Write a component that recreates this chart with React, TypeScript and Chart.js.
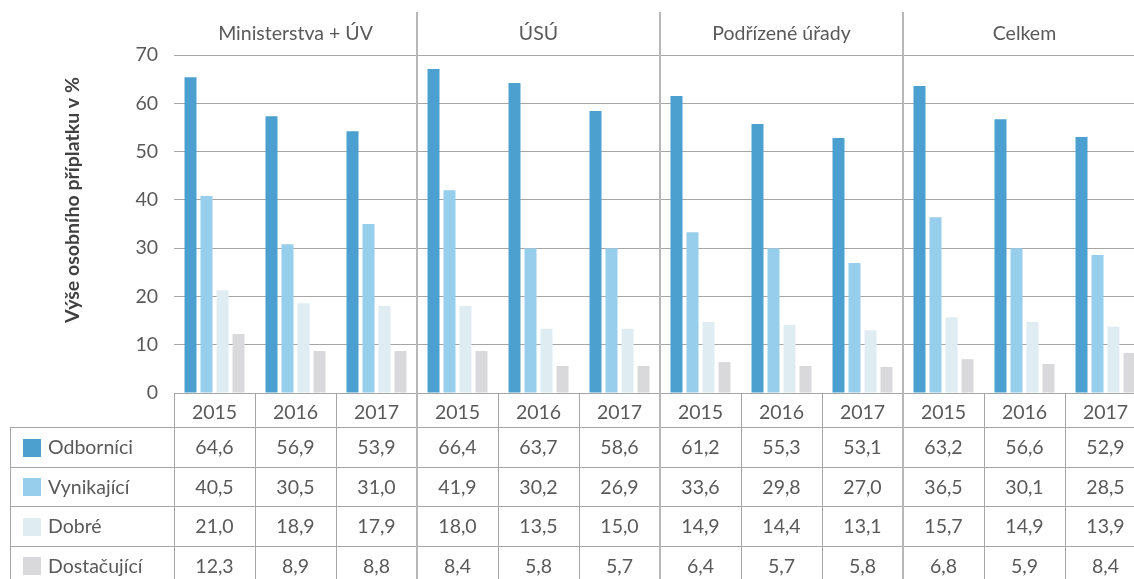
import React, { useEffect, useRef } from "react";
import { Chart, registerables } from "chart.js";

Chart.register(...registerables);

const groups = ["Ministerstva + ÚV", "ÚSÚ", "Podřízené úřady", "Celkem"];
const years = ["2015", "2016", "2017"];
const seriesNames = ["Odborníci", "Vynikající", "Dobré", "Dostačující"];
const seriesColors = ["#4BA0CF", "#97CEEC", "#DFEDF2", "#D9D9DB"];

// bar heights as drawn in the picture
const odborniciBars = [65.4, 57.3, 54.2, 67.1, 64.2, 58.4, 61.5, 55.7, 52.8, 63.6, 56.7, 53.0];
const vynikajiciBars = [40.8, 30.8, 35.0, 42.0, 30.0, 30.0, 33.3, 30.0, 26.9, 36.4, 30.0, 28.6];
const dobreBars = [21.3, 18.6, 18.0, 18.0, 13.3, 13.3, 14.7, 14.1, 13.0, 15.7, 14.7, 13.7];
const dostacujiciBars = [12.2, 8.7, 8.7, 8.7, 5.6, 5.6, 6.4, 5.6, 5.4, 7.0, 6.0, 8.3];

// values printed in the data table
const odborniciTable = [64.6, 56.9, 53.9, 66.4, 63.7, 58.6, 61.2, 55.3, 53.1, 63.2, 56.6, 52.9];
const vynikajiciTable = [40.5, 30.5, 31.0, 41.9, 30.2, 26.9, 33.6, 29.8, 27.0, 36.5, 30.1, 28.5];
const dobreTable = [21.0, 18.9, 17.9, 18.0, 13.5, 15.0, 14.9, 14.4, 13.1, 15.7, 14.9, 13.9];
const dostacujiciTable = [12.3, 8.9, 8.8, 8.4, 5.8, 5.7, 6.4, 5.7, 5.8, 6.8, 5.9, 8.4];

const yTicks = [0, 10, 20, 30, 40, 50, 60, 70];
const yTitle = "Výše osobního příplatku v %";

const FONT = "Lato";
const FS = 19.5;
const TEXT = "#595959";

export default function App() {
  const ref = useRef<HTMLCanvasElement | null>(null);

  useEffect(() => {
    let chart: Chart | null = null;
    let cancelled = false;

    const labels: string[] = [];
    groups.forEach(() => years.forEach((y) => labels.push(y)));
    const barSeries = [odborniciBars, vynikajiciBars, dobreBars, dostacujiciBars];
    const tableSeries = [odborniciTable, vynikajiciTable, dobreTable, dostacujiciTable];

    const tablePlugin = {
      id: "tablePlugin",
      afterDraw(c: any) {
        const ctx = c.ctx as CanvasRenderingContext2D;
        const x = c.scales.x;
        const area = c.chartArea;
        const n = labels.length;
        const cw = (area.right - area.left) / n;
        const rowTop = 427;
        const rowH = 39.5;
        const bottom = c.height;
        ctx.save();
        // horizontal table lines
        ctx.strokeStyle = "#a6a6a6";
        ctx.lineWidth = 1;
        for (let r = 0; r < 4; r++) {
          const y = Math.round(rowTop + r * rowH) + 0.5;
          ctx.beginPath();
          ctx.moveTo(10, y);
          ctx.lineTo(c.width, y);
          ctx.stroke();
        }
        // left border of legend column
        ctx.beginPath();
        ctx.moveTo(10.5, rowTop);
        ctx.lineTo(10.5, bottom);
        ctx.stroke();
        // vertical cell lines
        for (let i = 0; i < n; i++) {
          const bx = Math.round(x.getPixelForValue(i) - cw / 2);
          const isGroup = i % 3 === 0 && i > 0;
          if (isGroup) {
            ctx.strokeStyle = "#b8b8b8";
            ctx.lineWidth = 2;
            ctx.beginPath();
            ctx.moveTo(bx, 12);
            ctx.lineTo(bx, bottom);
            ctx.stroke();
          } else {
            ctx.strokeStyle = "#a6a6a6";
            ctx.lineWidth = 1;
            ctx.beginPath();
            ctx.moveTo(bx + 0.5, area.bottom);
            ctx.lineTo(bx + 0.5, bottom);
            ctx.stroke();
          }
        }
        // group titles
        ctx.fillStyle = TEXT;
        ctx.font = `${FS}px ${FONT}`;
        ctx.textAlign = "center";
        ctx.textBaseline = "middle";
        groups.forEach((g, gi) => {
          const cx = (x.getPixelForValue(gi * 3) + x.getPixelForValue(gi * 3 + 2)) / 2;
          ctx.fillText(g, cx, 34);
        });
        // table values
        for (let r = 0; r < 4; r++) {
          const cy = rowTop + r * rowH + rowH / 2 + 1;
          for (let i = 0; i < n; i++) {
            const v = tableSeries[r][i].toFixed(1).replace(".", ",");
            ctx.fillText(v, x.getPixelForValue(i), cy);
          }
          // legend
          ctx.fillStyle = seriesColors[r];
          ctx.fillRect(23, Math.round(cy - 9), 18, 18);
          ctx.fillStyle = TEXT;
          ctx.textAlign = "left";
          ctx.fillText(seriesNames[r], 48, cy);
          ctx.textAlign = "center";
        }
        // y title
        ctx.save();
        ctx.translate(73, 200);
        ctx.rotate(-Math.PI / 2);
        ctx.font = `bold 19.5px ${FONT}`;
        ctx.fillStyle = "#404040";
        ctx.textAlign = "center";
        ctx.textBaseline = "middle";
        ctx.fillText(yTitle, 0, 0);
        ctx.restore();
        ctx.restore();
      },
    };

    const create = () => {
      if (cancelled || !ref.current) return;
      chart = new Chart(ref.current, {
        type: "bar",
        data: {
          labels,
          datasets: seriesNames.map((name, i) => ({
            label: name,
            data: barSeries[i],
            backgroundColor: seriesColors[i],
            borderWidth: 0,
            categoryPercentage: 0.79,
            barPercentage: 0.75,
          })),
        },
        options: {
          responsive: false,
          animation: false,
          devicePixelRatio: 1,
          layout: { padding: { top: 55, bottom: 152, left: 0, right: 0 } },
          plugins: { legend: { display: false }, tooltip: { enabled: false }, title: { display: false } },
          scales: {
            x: {
              type: "category",
              grid: { display: false },
              border: { display: false },
              ticks: {
                color: TEXT,
                font: { family: FONT, size: FS },
                padding: 0,
                maxRotation: 0,
                autoSkip: false,
              },
              afterFit: (s: any) => {
                s.height = 34;
              },
            },
            y: {
              min: 0,
              max: 70,
              afterBuildTicks: (s: any) => {
                s.ticks = yTicks.map((v) => ({ value: v }));
              },
              grid: { color: "#a6a6a6", lineWidth: 1, drawTicks: false },
              border: { display: false },
              ticks: {
                color: TEXT,
                font: { family: FONT, size: FS },
                padding: 16,
              },
              afterFit: (s: any) => {
                s.width = 174;
              },
            },
          },
        },
        plugins: [tablePlugin],
      });
    };

    const fontsReady = (document as any).fonts
      ? Promise.all([
          (document as any).fonts.load(`${FS}px ${FONT}`),
          (document as any).fonts.load(`bold 19.5px ${FONT}`),
        ]).catch(() => null)
      : Promise.resolve(null);
    fontsReady.then(create);

    return () => {
      cancelled = true;
      if (chart) chart.destroy();
    };
  }, []);

  return (
    <div
      style={{
        position: "fixed",
        left: 0,
        top: 0,
        width: 1134,
        height: 579,
        overflow: "hidden",
        background: "#fff",
      }}
    >
      <canvas ref={ref} width={1146} height={579} style={{ display: "block", width: 1146, height: 579 }} />
    </div>
  );
}
